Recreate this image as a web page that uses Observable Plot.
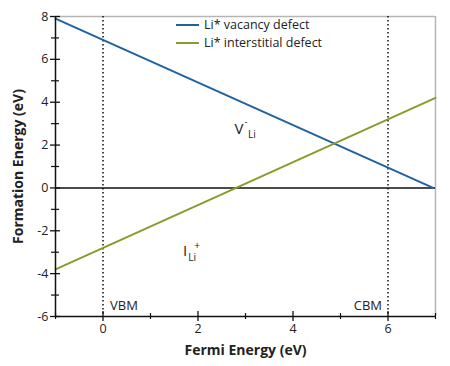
<!DOCTYPE html>
<html><head><meta charset="utf-8">
<script src="https://cdn.jsdelivr.net/npm/d3@7"></script>
<script src="https://cdn.jsdelivr.net/npm/@observablehq/plot@0.6"></script>
<style>
body{margin:0;background:#fff;font-family:"Open Sans",sans-serif;}
#wrap{position:relative;width:450px;height:366px;}
.leg{position:absolute;font-size:12.5px;color:#222;display:flex;align-items:center;}
.leg span.sw{display:inline-block;width:23px;height:2px;margin-right:5px;}
</style></head>
<body><div id="wrap"></div>
<script>
const seriesNames = ["Li* vacancy defect", "Li* interstitial defect"];
const seriesColors = ["#1d63a0", "#8a9a2c"];
const vacancyX = [-1, 6.95];
const vacancyY = [7.9, 0];
const interstitialX = [-1, 7];
const interstitialY = [-3.8, 4.2];
const bandEdgesX = [0, 6];
const bandEdgeLabels = ["VBM", "CBM"];
const xMajorTicks = [0, 2, 4, 6];
const xMinorTicks = [-1, 1, 3, 5, 7];
const yMajorTicks = [-6, -4, -2, 0, 2, 4, 6, 8];
const yMinorTicks = [-5, -3, -1, 1, 3, 5, 7];

const lines = [];
vacancyX.forEach((x, i) => lines.push({s: seriesNames[0], x, y: vacancyY[i]}));
interstitialX.forEach((x, i) => lines.push({s: seriesNames[1], x, y: interstitialY[i]}));

const f = "Open Sans";
const fmt = d => String(d);
const chart = Plot.plot({
  width: 450, height: 366,
  marginLeft: 55, marginRight: 15, marginTop: 16, marginBottom: 50,
  style: {fontFamily: f, background: "#fff"},
  x: {domain: [-1, 7]},
  y: {domain: [-6, 8]},
  color: {domain: seriesNames, range: seriesColors},
  marks: [
    Plot.ruleY([8], {stroke: "#b5b5b5", strokeWidth: 1.5}),
    Plot.ruleX([7], {stroke: "#b5b5b5", strokeWidth: 1.5}),
    Plot.ruleX(bandEdgesX, {stroke: "#111", strokeWidth: 1.5, strokeDasharray: "1.5,2.5"}),
    Plot.ruleY([0], {stroke: "#111", strokeWidth: 1.5}),
    Plot.line(lines, {x: "x", y: "y", z: "s", stroke: "s", strokeWidth: 2}),
    Plot.text([bandEdgeLabels[0]], {x: bandEdgesX[0], y: -5.5, dx: 7, text: d => d, textAnchor: "start", fontSize: 13, fill: "#222"}),
    Plot.text([bandEdgeLabels[1]], {x: bandEdgesX[1], y: -5.5, dx: -6, text: d => d, textAnchor: "end", fontSize: 13, fill: "#222"}),
    Plot.text(["V"], {x: 2.86, y: 2.76, text: d => d, fontSize: 15, fill: "#222"}),
    Plot.text(["-"], {x: 2.86, y: 2.76, dx: 7, dy: -7, text: d => d, fontSize: 9, fill: "#222"}),
    Plot.text(["Li"], {x: 2.86, y: 2.76, dx: 13, dy: 6, text: d => d, fontSize: 10, fill: "#222"}),
    Plot.text(["I"], {x: 1.73, y: -2.94, text: d => d, fontSize: 15, fill: "#222"}),
    Plot.text(["+"], {x: 1.73, y: -2.94, dx: 12, dy: -5, text: d => d, fontSize: 10, fill: "#222"}),
    Plot.text(["Li"], {x: 1.73, y: -2.94, dx: 7, dy: 7, text: d => d, fontSize: 10, fill: "#222"}),
    Plot.ruleY([-6], {stroke: "#111", strokeWidth: 1.5}),
    Plot.ruleX([-1], {stroke: "#111", strokeWidth: 1.5}),
    Plot.axisX({ticks: xMajorTicks, tickSize: 10, dy: -5, text: null, label: null, stroke: "#111", strokeWidth: 1.3}),
    Plot.axisX({ticks: xMinorTicks, tickSize: 6, dy: -3, text: null, label: null, stroke: "#111", strokeWidth: 1.2}),
    Plot.axisX({ticks: xMajorTicks, tickSize: 0, tickPadding: 8, fontSize: 12.5, fill: "#222", tickFormat: fmt,
      label: "Fermi Energy (eV)", labelAnchor: "center", labelOffset: 38, labelArrow: "none"}),
    Plot.axisY({ticks: yMajorTicks, tickSize: 10, dx: 5, text: null, label: null, stroke: "#111", strokeWidth: 1.3}),
    Plot.axisY({ticks: yMinorTicks, tickSize: 8, dx: 4, text: null, label: null, stroke: "#111", strokeWidth: 1.2}),
    Plot.axisY({ticks: yMajorTicks, tickSize: 0, tickPadding: 7, fontSize: 12.5, fill: "#222", tickFormat: fmt,
      label: "Formation Energy (eV)", labelAnchor: "center", labelOffset: 42, labelArrow: "none"})
  ]
});
d3.select(chart).selectAll("g[aria-label='x-axis label'] text, g[aria-label='y-axis label'] text")
  .attr("font-weight", "bold").attr("font-size", 14).attr("fill", "#222");
const wrap = document.getElementById("wrap");
wrap.appendChild(chart);
seriesNames.forEach((n, i) => {
  const d = document.createElement("div");
  d.className = "leg";
  d.style.left = "176px";
  d.style.top = (16 + i * 18) + "px";
  d.innerHTML = `<span class="sw" style="background:${seriesColors[i]}"></span>${n}`;
  wrap.appendChild(d);
});
</script></body></html>
